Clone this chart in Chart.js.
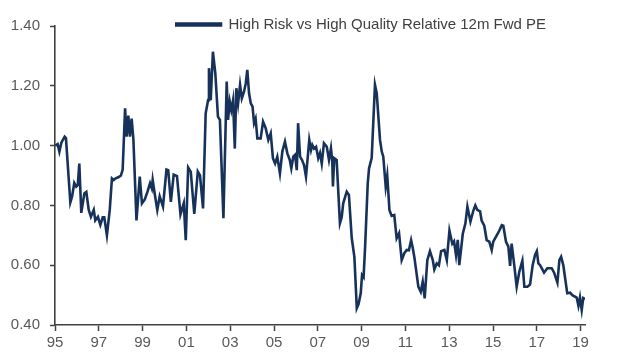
<!DOCTYPE html>
<html>
<head>
<meta charset="utf-8">
<script src="https://cdn.jsdelivr.net/npm/chart.js@4.4.1/dist/chart.umd.min.js"></script>
<style>
  html, body { margin: 0; padding: 0; background: #ffffff; }
  #wrap { width: 640px; height: 360px; }
</style>
</head>
<body>
<div id="wrap"><canvas id="c" width="640" height="360"></canvas></div>
<script>
// Series label
const seriesName = "High Risk vs High Quality Relative 12m Fwd PE";

// Dates as decimal years
const dates = [
  1995.01,1995.12,1995.20,1995.29,1995.44,1995.50,1995.70,1995.78,1995.88,1995.97,
  1996.04,1996.11,1996.20,1996.34,1996.43,1996.54,1996.64,1996.77,1996.84,1996.96,
  1997.07,1997.18,1997.25,1997.37,1997.50,1997.60,1997.68,1997.75,1997.91,1998.01,
  1998.09,1998.20,1998.27,1998.35,1998.42,1998.50,1998.58,1998.72,1998.87,1998.97,
  1999.10,1999.22,1999.34,1999.42,1999.46,1999.54,1999.67,1999.78,1999.93,2000.09,
  2000.17,2000.29,2000.42,2000.57,2000.73,2000.88,2000.97,2001.08,2001.20,2001.36,
  2001.52,2001.62,2001.76,2001.88,2001.99,2002.03,2002.11,2002.21,2002.32,2002.44,
  2002.53,2002.69,2002.84,2002.90,2002.98,2003.05,2003.13,2003.21,2003.28,2003.36,
  2003.45,2003.53,2003.63,2003.71,2003.78,2003.86,2003.94,2004.02,2004.09,2004.16,
  2004.24,2004.39,2004.50,2004.62,2004.74,2004.85,2004.95,2005.05,2005.15,2005.27,
  2005.38,2005.50,2005.61,2005.72,2005.79,2005.88,2005.96,2006.04,2006.10,2006.19,
  2006.28,2006.37,2006.46,2006.61,2006.69,2006.75,2006.83,2006.92,2007.02,2007.10,
  2007.18,2007.28,2007.41,2007.51,2007.60,2007.66,2007.69,2007.75,2007.86,2008.01,
  2008.09,2008.16,2008.32,2008.42,2008.55,2008.67,2008.78,2008.86,2008.96,2009.02,
  2009.09,2009.16,2009.28,2009.34,2009.46,2009.61,2009.69,2009.84,2009.92,2009.99,
  2010.10,2010.17,2010.27,2010.37,2010.49,2010.60,2010.71,2010.83,2010.95,2011.06,
  2011.16,2011.26,2011.33,2011.41,2011.59,2011.70,2011.79,2011.88,2012.00,2012.12,
  2012.25,2012.32,2012.43,2012.53,2012.63,2012.78,2012.89,2013.01,2013.14,2013.22,
  2013.31,2013.39,2013.46,2013.62,2013.74,2013.83,2013.97,2014.10,2014.19,2014.28,
  2014.41,2014.48,2014.60,2014.71,2014.83,2014.94,2015.01,2015.17,2015.29,2015.40,
  2015.47,2015.59,2015.70,2015.78,2015.85,2015.96,2016.08,2016.20,2016.34,2016.43,
  2016.57,2016.69,2016.81,2016.92,2017.00,2017.07,2017.15,2017.33,2017.48,2017.68,
  2017.79,2017.94,2018.03,2018.11,2018.21,2018.39,2018.52,2018.62,2018.82,2018.90,
  2018.97,2019.05,2019.12,2019.20
];

// Relative 12m forward PE values
const values = [
  1.000,1.005,0.980,1.010,1.030,1.025,0.810,0.830,0.875,0.863,
  0.868,0.940,0.775,0.840,0.845,0.785,0.762,0.785,0.750,0.762,
  0.735,0.760,0.760,0.700,0.785,0.890,0.885,0.890,0.895,0.900,
  0.920,1.125,1.030,1.100,1.030,1.090,1.020,0.750,0.896,0.807,
  0.820,0.845,0.874,0.857,0.885,0.845,0.785,0.830,0.796,0.920,
  0.918,0.812,0.903,0.898,0.770,0.807,0.684,0.927,0.912,0.772,
  0.913,0.900,0.790,1.108,1.152,1.259,1.152,1.314,1.242,1.097,
  1.086,0.757,1.214,1.086,1.147,1.119,1.152,0.990,1.192,1.141,
  1.203,1.158,1.180,1.208,1.253,1.175,1.141,1.130,1.075,1.090,
  1.024,1.024,1.080,1.058,1.019,1.041,0.958,0.940,0.963,0.907,
  0.980,1.013,0.974,0.952,0.924,0.963,0.969,0.918,1.075,0.963,
  0.952,0.935,0.896,1.019,0.985,1.002,0.990,0.996,0.958,0.975,
  0.940,1.008,0.996,0.952,0.991,0.947,0.863,0.958,0.952,0.740,
  0.760,0.807,0.846,0.835,0.690,0.628,0.456,0.470,0.506,0.567,
  0.560,0.662,0.874,0.924,0.958,1.203,1.175,1.019,0.980,0.963,
  0.863,0.900,0.785,0.765,0.768,0.690,0.707,0.617,0.640,0.651,
  0.650,0.684,0.660,0.626,0.528,0.511,0.545,0.489,0.617,0.647,
  0.617,0.586,0.606,0.600,0.647,0.651,0.617,0.716,0.672,0.680,
  0.634,0.685,0.600,0.705,0.740,0.796,0.746,0.782,0.800,0.785,
  0.780,0.749,0.732,0.684,0.679,0.651,0.679,0.700,0.716,0.734,
  0.732,0.679,0.662,0.598,0.672,0.606,0.528,0.578,0.615,0.528,
  0.528,0.535,0.600,0.634,0.647,0.606,0.600,0.575,0.590,0.590,
  0.575,0.542,0.617,0.628,0.600,0.506,0.508,0.500,0.492,0.464,
  0.492,0.450,0.490,0.487
];

// Axis ticks
const xTickYears = [1995,1997,1999,2001,2003,2005,2007,2009,2011,2013,2015,2017,2019];
const yTickValues = [0.40,0.60,0.80,1.00,1.20,1.40];

const points = dates.map((d, i) => ({ x: d, y: values[i] }));

const LINE = '#17325a';
const AXIS = '#404040';
const TXT = '#595959';

const legendShift = {
  id: 'legendShift',
  afterLayout(chart) {
    const lg = chart.legend;
    if (!lg) return;
    lg.left += 175; lg.right += 175;
    lg.top += 16; lg.bottom += 16;
  }
};

new Chart(document.getElementById('c'), {
  type: 'line',
  data: {
    datasets: [{
      label: seriesName,
      data: points,
      borderColor: LINE,
      backgroundColor: LINE,
      borderWidth: 2.6,
      pointRadius: 0,
      tension: 0,
      fill: false
    }]
  },
  options: {
    responsive: false,
    animation: false,
    devicePixelRatio: 1,
    layout: { padding: { top: 1, right: 55, left: 0, bottom: 0 } },
    plugins: {
      legend: {
        display: true,
        position: 'top',
        align: 'start',
        labels: {
          boxWidth: 46,
          boxHeight: 2,
          padding: 0,
          color: '#404040',
          font: { family: "'Liberation Sans', Arial, sans-serif", size: 15 }
        }
      },
      tooltip: { enabled: false }
    },
    scales: {
      x: {
        type: 'linear',
        min: 1995,
        max: 2019.2,
        afterBuildTicks(scale) { scale.ticks = xTickYears.map(v => ({ value: v })); },
        afterFit(scale) { scale.height = 35; },
        grid: { drawOnChartArea: false, drawTicks: true, tickLength: 6, tickColor: AXIS, tickWidth: 1.5 },
        border: { display: true, color: AXIS, width: 1.6 },
        ticks: {
          color: TXT,
          padding: 3,
          maxRotation: 0,
          autoSkip: false,
          font: { family: "'Liberation Sans', Arial, sans-serif", size: 15 },
          callback: (v) => String(v).slice(2)
        }
      },
      y: {
        type: 'linear',
        min: 0.4,
        max: 1.4,
        afterBuildTicks(scale) { scale.ticks = yTickValues.map(v => ({ value: v })); },
        afterFit(scale) { scale.width = 55; },
        grid: { drawOnChartArea: false, drawTicks: true, tickLength: 5, tickColor: AXIS, tickWidth: 1.5 },
        border: { display: true, color: AXIS, width: 1.6 },
        ticks: {
          color: TXT,
          padding: 10,
          font: { family: "'Liberation Sans', Arial, sans-serif", size: 15 },
          callback: (v) => Number(v).toFixed(2)
        }
      }
    }
  },
  plugins: [legendShift]
});
</script>
</body>
</html>
